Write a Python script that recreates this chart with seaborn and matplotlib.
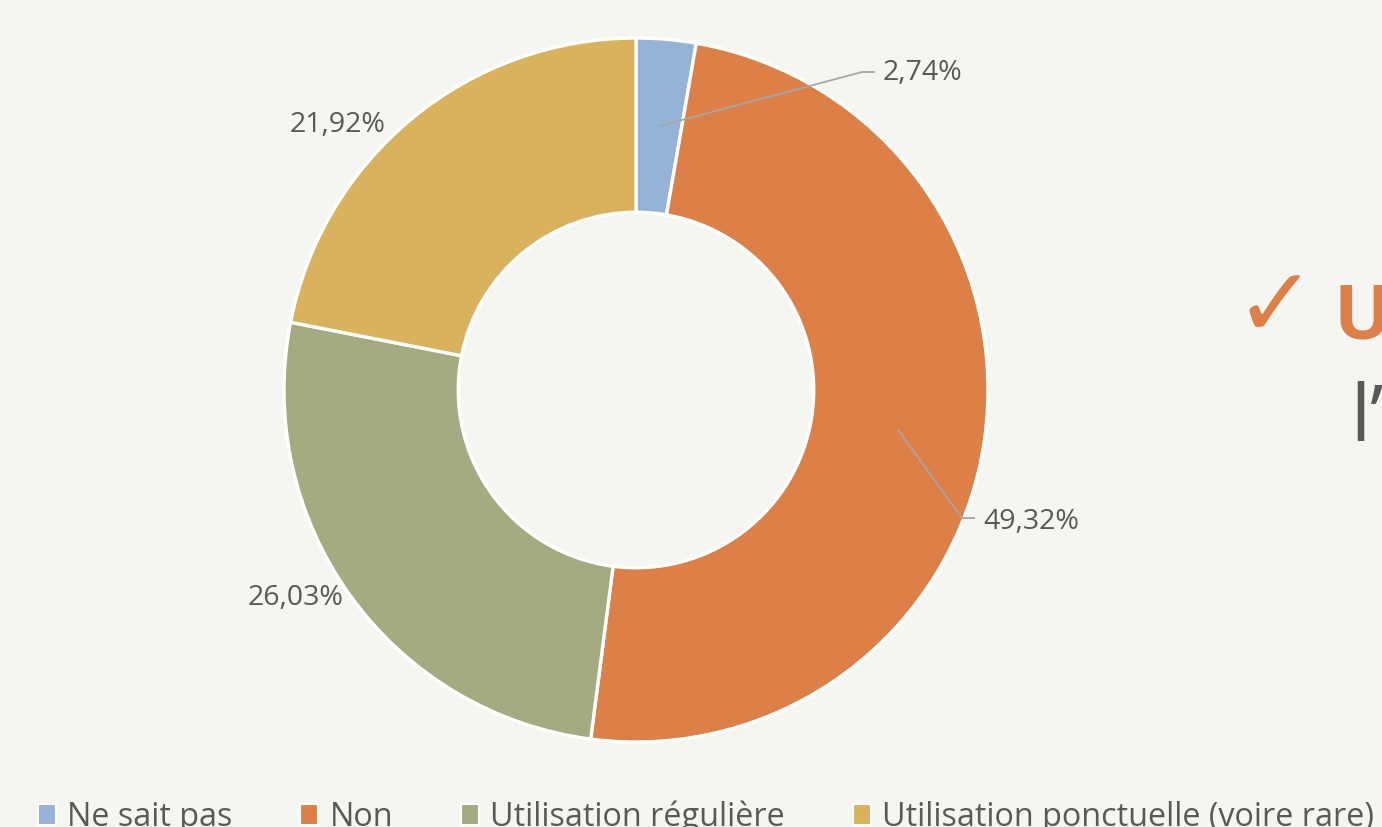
import matplotlib
matplotlib.use("Agg")
import matplotlib.pyplot as plt
import matplotlib.patches as mpatches
import numpy as np
import seaborn as sns

# ---- data ----
categories = ["Ne sait pas", "Non", "Utilisation régulière", "Utilisation ponctuelle (voire rare)"]
values = [2.74, 49.32, 26.03, 21.92]
labels = ["2,74%", "49,32%", "26,03%", "21,92%"]
colors = ["#95B3D7", "#DD8047", "#A5AB81", "#D8B25C"]

BG = "#F5F5F1"
TXT = "#595959"

sns.set_theme(style="white")
plt.rcParams["font.family"] = ["Open Sans", "DejaVu Sans"]

W, H = 1382, 827
fig = plt.figure(figsize=(W / 100, H / 100), dpi=100, facecolor=BG)
ax = fig.add_axes([0, 0, 1, 1])
ax.set_facecolor(BG)

R_PX = 352.0
CX, CY = 636.0, 390.0

ring = 0.495
wedges, _ = ax.pie(values, colors=colors, startangle=90, counterclock=False,
                   radius=1.0,
                   wedgeprops=dict(width=ring, edgecolor="white", linewidth=2.4))

ax.set_xlim(-CX / R_PX, (W - CX) / R_PX)
ax.set_ylim(-(H - CY) / R_PX, CY / R_PX)
ax.set_aspect("equal", adjustable="datalim")
ax.set_position([0, 0, 1, 1])
ax.axis("off")

def px(x, y):
    return ((x - CX) / R_PX, (CY - y) / R_PX)

# label positions (layout)
label_pos = [px(883, 73), px(983, 522), px(296, 598), px(338, 125)]
has_leader = [True, True, False, False]
leader_elbow = [px(862, 72), px(962, 518), None, None]
leader_end = [px(875, 72), px(975, 518), None, None]

mid_r = 1.0 - ring / 2
for i, w in enumerate(wedges):
    ang = np.deg2rad((w.theta1 + w.theta2) / 2)
    sx, sy = mid_r * np.cos(ang), mid_r * np.sin(ang)
    if has_leader[i]:
        ex, ey = leader_elbow[i]
        fx, fy = leader_end[i]
        ax.plot([sx, ex, fx], [sy, ey, fy], color="#A6A6A6", lw=1.3,
                solid_capstyle="butt", zorder=5)
        ax.text(label_pos[i][0], label_pos[i][1], labels[i], ha="left", va="center",
                fontsize=20.5, color=TXT, zorder=6)
    else:
        ax.text(label_pos[i][0], label_pos[i][1], labels[i], ha="center", va="center",
                fontsize=20.5, color=TXT, zorder=6)

# legend at bottom (cut by the slide crop)
handles = [mpatches.Patch(facecolor=c, edgecolor="white", linewidth=1.5) for c in colors]
leg = fig.legend(handles, categories, loc="center left", bbox_to_anchor=(38 / W, 0.012),
                 ncol=4, frameon=False, fontsize=23.3, handlelength=0.55, handleheight=0.65,
                 handletextpad=0.35, columnspacing=2.1, labelcolor=TXT,
                 borderaxespad=0, borderpad=0)

# right-side slide text (cut by the crop)
fig.text(1234 / W, 1 - 310 / H, "✓", fontsize=70, color="#DD8047",
         family=["DejaVu Sans"], ha="left", va="center")
fig.text(1334 / W, 1 - 319 / H, "U", fontsize=55, color="#DD8047",
         fontweight="bold", ha="left", va="center")
fig.text(1350 / W, 1 - 421 / H, "l’", fontsize=57, color=TXT,
         ha="left", va="center")

fig.savefig("out.png", dpi=100, facecolor=BG)
